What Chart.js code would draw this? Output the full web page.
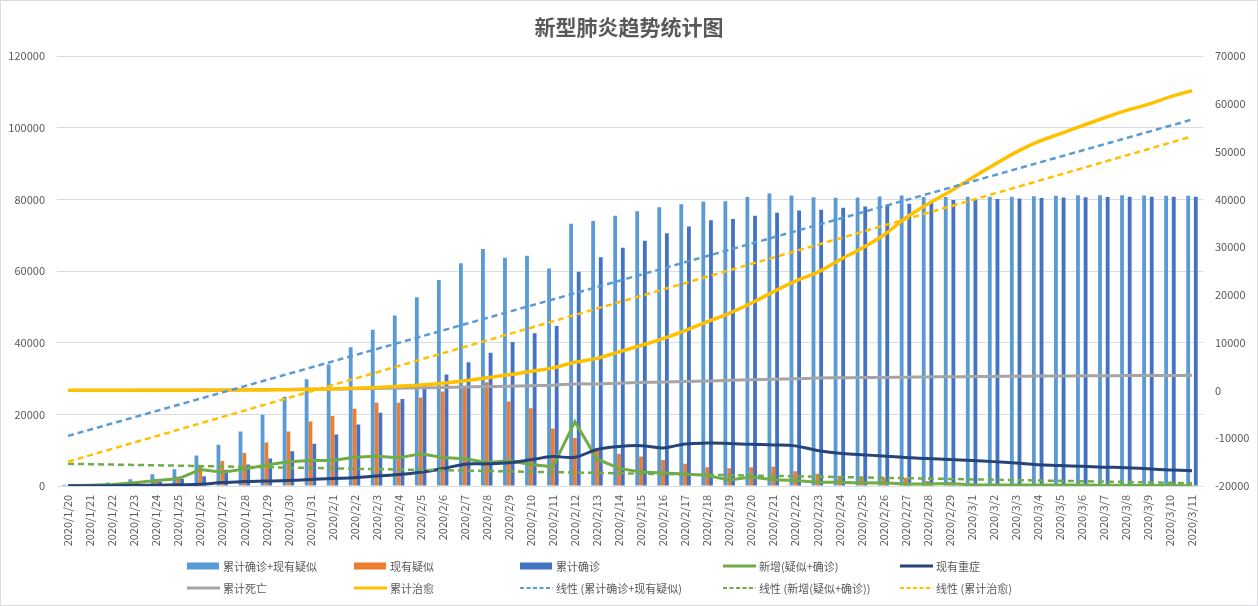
<!DOCTYPE html>
<html><head><meta charset="utf-8">
<script src="https://cdn.jsdelivr.net/npm/chart.js@4.4.0/dist/chart.umd.min.js"></script>
<style>html,body{margin:0;padding:0;background:#fff}canvas{display:block}</style>
</head><body>
<canvas id="c" width="1258" height="606"></canvas>
<script>
const dates = ["2020/1/20","2020/1/21","2020/1/22","2020/1/23","2020/1/24","2020/1/25","2020/1/26","2020/1/27","2020/1/28","2020/1/29","2020/1/30","2020/1/31",
"2020/2/1","2020/2/2","2020/2/3","2020/2/4","2020/2/5","2020/2/6","2020/2/7","2020/2/8","2020/2/9","2020/2/10","2020/2/11","2020/2/12","2020/2/13","2020/2/14","2020/2/15","2020/2/16","2020/2/17","2020/2/18","2020/2/19","2020/2/20","2020/2/21","2020/2/22","2020/2/23","2020/2/24","2020/2/25","2020/2/26","2020/2/27","2020/2/28","2020/2/29",
"2020/3/1","2020/3/2","2020/3/3","2020/3/4","2020/3/5","2020/3/6","2020/3/7","2020/3/8","2020/3/9","2020/3/10","2020/3/11"];

const confirmedPlusSuspected = [345,477,964,1902,3252,4659,8538,11488,15213,19878,24930,29779,
33924,38763,43652,47584,52720,57520,62203,66140,63760,64313,60720,73239,73960,75461,76728,77812,78678,79433,79498,80671,81653,81084,80584,80482,80555,80855,81132,80669,80675,
80741,80738,80790,80931,81034,81153,81153,81156,81103,81063,81046];

const suspectedNow = [54,37,393,1072,1965,2684,5794,6973,9239,12167,15238,17988,
19544,21558,23214,23260,24702,26359,27657,28942,23589,21675,16067,13435,10109,8969,8228,7264,6242,5248,4922,5206,5365,4148,3434,2824,2491,2358,2308,1418,851,
715,587,520,522,482,502,458,421,349,285,253];

const confirmedTotal = [291,440,571,830,1287,1975,2744,4515,5974,7711,9692,11791,
14380,17205,20438,24324,28018,31161,34546,37198,40171,42638,44653,59804,63851,66492,68500,70548,72436,74185,74576,75465,76288,76936,77150,77658,78064,78497,78824,79251,79824,
80026,80151,80270,80409,80552,80651,80695,80735,80754,80778,80793];

const newCases = [100,200,400,939,1562,1997,4575,3848,4707,5885,6794,7121,
7152,8002,8307,7858,9022,7976,7613,6572,7070,6014,5357,17959,7540,4918,3927,3611,3318,2934,1671,2503,1758,1530,1029,1038,845,885,575,559,714,
331,268,262,282,245,252,203,181,107,120,82];

const severeNow = [35,60,95,177,237,324,461,976,1239,1370,1527,1795,
2110,2296,2788,3219,3859,4821,6101,6188,6484,7333,8204,8030,10204,11053,11272,10644,11741,11977,11864,11633,11477,11200,9915,9126,8752,8346,7952,7664,7365,
7110,6806,6416,5952,5737,5489,5264,5111,4794,4492,4257];

const deathsTotal = [6,9,17,25,41,56,80,106,132,170,213,259,
304,361,425,490,563,636,722,811,908,1016,1113,1367,1380,1523,1665,1770,1868,2004,2118,2236,2345,2442,2592,2663,2715,2744,2788,2835,2870,
2912,2943,2981,3012,3042,3070,3097,3119,3136,3158,3169];

const curedTotal = [25,25,28,34,38,49,51,60,103,124,171,243,
328,475,632,892,1153,1540,2050,2649,3281,3996,4740,5911,6723,8096,9419,10844,12552,14376,16155,18264,20659,22888,24734,27323,29745,32495,36117,39002,41625,
44462,47204,49856,52045,53726,55404,57065,58600,59897,61475,62793];

// trend line end values (first day, last day)
const trendTotalEnds = [14000, 102300];
const trendNewEnds = [6200, 800];
const trendCuredEnds = [-14900, 53200];

const leftTicks = [0,20000,40000,60000,80000,100000,120000];
const rightTicks = [-20000,-10000,0,10000,20000,30000,40000,50000,60000,70000];

const first = dates[0], last = dates[dates.length-1];
const ends = a => [{x:first,y:a[0]},{x:last,y:a[1]}];

Chart.defaults.font.family = '"Noto Sans CJK SC", "Noto Sans", sans-serif';
Chart.defaults.font.size = 11;
Chart.defaults.color = '#595959';

const frame = {
  id:'frame',
  beforeDraw(chart){
    const c = chart.ctx; c.save(); c.fillStyle='#fff'; c.fillRect(0,0,chart.width,chart.height); c.restore();
  },
  afterDraw(chart){
    const c = chart.ctx; c.save(); c.strokeStyle='#d9dde3'; c.lineWidth=1;
    c.strokeRect(0.5,0.5,chart.width-1,chart.height-1); c.restore();
  }
};

const gridLegend = {
  id:'gridLegend',
  afterDraw(chart){
    const ctx = chart.ctx;
    const cols = [187, 354, 520, 723, 900];
    const rows = [566, 588];
    ctx.save();
    ctx.font = '11px "Noto Sans CJK SC"';
    ctx.textBaseline = 'middle';
    chart.data.datasets.forEach((ds,i)=>{
      const x = cols[i%5], y = rows[Math.floor(i/5)];
      if (ds.type === 'bar') {
        ctx.fillStyle = ds.backgroundColor;
        ctx.fillRect(x, y-3.5, 32, 7);
      } else {
        ctx.strokeStyle = ds.borderColor;
        ctx.lineWidth = ds.borderDash ? 2 : 3;
        ctx.setLineDash(ds.borderDash ? [4,2.5] : []);
        ctx.beginPath(); ctx.moveTo(x, y); ctx.lineTo(x+33, y); ctx.stroke();
        ctx.setLineDash([]);
      }
      ctx.fillStyle = '#595959';
      ctx.fillText(ds.label, x+36, y+0.5);
    });
    ctx.restore();
  }
};

const barCommon = {type:'bar', yAxisID:'yL', categoryPercentage:0.52, barPercentage:1.0, order:20};
const lineCommon = {type:'line', pointRadius:0, pointHoverRadius:0, fill:false};

new Chart(document.getElementById('c'), {
  type:'bar',
  data:{
    labels: dates,
    datasets:[
      {...barCommon, label:'累计确诊+现有疑似', data:confirmedPlusSuspected, backgroundColor:'#5b9bd5'},
      {...barCommon, label:'现有疑似', data:suspectedNow, backgroundColor:'#ed7d31'},
      {...barCommon, label:'累计确诊', data:confirmedTotal, backgroundColor:'#4472c4'},
      {...lineCommon, label:'新增(疑似+确诊)', data:newCases, yAxisID:'yL', borderColor:'#70ad47', borderWidth:3, tension:0, order:9},
      {...lineCommon, label:'现有重症', data:severeNow, yAxisID:'yL', borderColor:'#264478', borderWidth:3, tension:0.4, order:8},
      {...lineCommon, label:'累计死亡', data:deathsTotal, yAxisID:'yR', borderColor:'#a5a5a5', borderWidth:3, tension:0.4, order:7},
      {...lineCommon, label:'累计治愈', data:curedTotal, yAxisID:'yR', borderColor:'#ffc000', borderWidth:3.5, tension:0.4, order:6},
      {...lineCommon, label:'线性 (累计确诊+现有疑似)', data:ends(trendTotalEnds), yAxisID:'yL', borderColor:'#5b9bd5', borderWidth:2.5, borderDash:[6,4], order:5},
      {...lineCommon, label:'线性 (新增(疑似+确诊))', data:ends(trendNewEnds), yAxisID:'yL', borderColor:'#70ad47', borderWidth:2.5, borderDash:[6,4], order:4},
      {...lineCommon, label:'线性 (累计治愈)', data:ends(trendCuredEnds), yAxisID:'yR', borderColor:'#ffc000', borderWidth:2.5, borderDash:[6,4], order:3}
    ]
  },
  options:{
    responsive:false, animation:false, devicePixelRatio:1,
    layout:{padding:{left:0,right:0,top:0,bottom:60}},
    plugins:{
      legend:{display:false},
      tooltip:{enabled:false},
      title:{display:true, text:'新型肺炎趋势统计图', color:'#595959',
        font:{size:21, weight:'bold', family:'"Noto Sans CJK SC", sans-serif'}, padding:{top:14,bottom:17}}
    },
    scales:{
      x:{
        grid:{display:false, drawTicks:false}, border:{display:false},
        ticks:{autoSkip:false, maxRotation:90, minRotation:90, padding:9, color:'#595959', font:{size:11}},
        afterFit(s){ s.height = 60; }
      },
      yL:{
        position:'left', min:0, max:120000,
        afterBuildTicks(s){ s.ticks = leftTicks.map(v=>({value:v})); },
        grid:{color:'#d9dde3', drawTicks:false}, border:{display:false},
        ticks:{padding:12, color:'#595959', callback:v=>String(v)},
        afterFit(s){ s.width = 57; }
      },
      yR:{
        position:'right', min:-20000, max:70000,
        afterBuildTicks(s){ s.ticks = rightTicks.map(v=>({value:v})); },
        grid:{display:false, drawTicks:false}, border:{display:false},
        ticks:{padding:12, color:'#595959', callback:v=>String(v)},
        afterFit(s){ s.width = 55; }
      }
    }
  },
  plugins:[frame, gridLegend]
});
</script>
</body></html>
